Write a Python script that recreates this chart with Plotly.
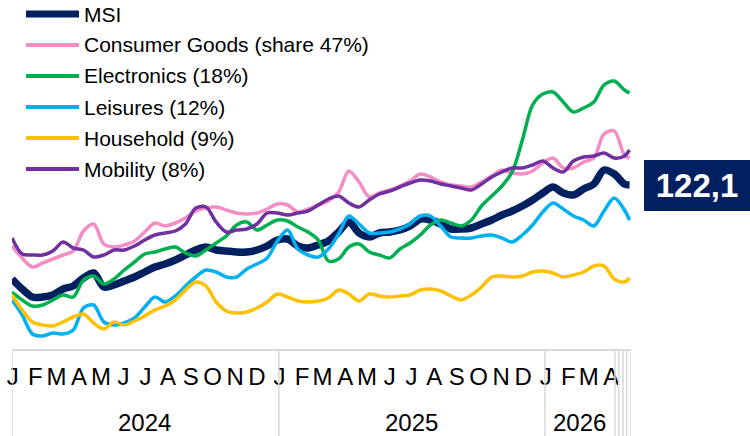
import plotly.graph_objects as go
import pandas as pd

# ---------------- data ----------------
dates = list(pd.date_range("2024-01-01", periods=61, freq="14D")) + [pd.Timestamp("2026-04-27")]

msi = [103.3, 101.3, 99.7, 99.7, 100.1, 101.3, 101.9, 103.5, 104.5, 101.7,
       102.1, 102.9, 103.7, 104.7, 105.7, 106.3, 107.1, 108.1, 109.1, 109.7,
       109.1, 108.9, 108.7, 108.7, 109.1, 109.9, 111.1, 111.3, 109.9, 109.5,
       110.1, 110.9, 112.7, 114.7, 112.5, 111.7, 112.5, 112.7, 113.1, 113.9,
       115.3, 115.1, 114.3, 113.3, 113.3, 113.5, 114.3, 115.1, 116.1, 116.9,
       117.9, 119.1, 120.5, 121.7, 120.5, 120.1, 121.3, 122.3, 125.1, 124.3,
       122.3, 122.1]

consumer_goods = [109.9, 107.5, 105.7, 106.5, 107.3, 108.1, 108.9, 112.9, 114.3, 110.3,
                  109.7, 110.1, 110.9, 112.7, 114.5, 113.9, 114.5, 115.5, 116.9, 117.5,
                  117.7, 117.1, 116.5, 116.3, 116.5, 117.3, 118.3, 118.1, 116.7, 117.3,
                  118.1, 118.9, 120.7, 124.9, 122.7, 119.7, 120.5, 121.1, 121.9, 122.9,
                  124.3, 123.7, 122.7, 122.1, 121.9, 121.7, 122.7, 123.9, 125.1, 124.5,
                  124.3, 124.9, 126.5, 127.5, 125.5, 125.5, 126.7, 127.5, 132.3, 132.9,
                  128.1, 127.5]

electronics = [100.7, 99.1, 97.9, 98.1, 99.1, 100.1, 99.7, 103.1, 103.9, 102.3,
               103.3, 105.1, 106.7, 108.3, 108.7, 109.3, 109.7, 108.5, 107.9, 109.1,
               110.5, 111.9, 114.1, 114.7, 113.1, 114.1, 115.1, 114.9, 113.7, 112.7,
               111.1, 106.9, 107.3, 109.7, 110.3, 108.7, 108.1, 107.5, 109.3, 110.5,
               112.1, 114.1, 115.1, 114.5, 113.9, 115.1, 117.9, 119.9, 121.9, 124.7,
               131.1, 138.1, 140.3, 140.7, 138.7, 136.7, 137.5, 138.7, 142.1, 142.9,
               141.1, 140.5]

leisures = [99.1, 96.1, 92.3, 91.9, 92.5, 92.3, 93.1, 97.5, 98.1, 94.7,
            94.1, 94.5, 95.5, 97.7, 99.7, 98.7, 99.9, 101.9, 103.7, 105.1,
            104.7, 103.7, 103.7, 105.3, 106.3, 107.5, 110.9, 113.1, 109.3, 108.1,
            107.7, 109.3, 112.3, 115.9, 114.3, 112.5, 112.5, 112.7, 113.3, 114.3,
            115.9, 115.9, 113.9, 111.7, 111.5, 111.5, 111.9, 112.1, 111.5, 110.7,
            112.1, 114.1, 116.7, 118.5, 117.3, 115.9, 115.1, 113.9, 116.9, 119.5,
            117.1, 115.1]

household = [100.1, 97.1, 94.7, 94.1, 93.9, 94.7, 95.7, 96.3, 94.5, 93.3,
             94.7, 94.1, 94.9, 95.9, 97.1, 97.9, 99.1, 101.1, 102.7, 101.9,
             98.7, 96.9, 96.5, 96.7, 97.5, 98.7, 100.3, 99.7, 98.9, 98.7,
             98.9, 99.5, 101.1, 100.3, 98.9, 100.3, 99.9, 99.7, 99.9, 100.1,
             101.1, 101.3, 100.9, 99.9, 99.1, 100.1, 101.7, 103.7, 103.9, 103.7,
             103.9, 104.7, 104.9, 104.5, 103.7, 104.1, 104.7, 105.9, 105.9, 103.3,
             102.7, 103.5]

mobility = [111.5, 108.3, 108.1, 108.1, 108.9, 110.7, 109.5, 109.1, 107.7, 108.1,
            109.1, 109.1, 109.9, 111.1, 112.1, 112.5, 112.9, 114.3, 117.5, 117.7,
            114.7, 112.7, 113.1, 113.3, 114.3, 116.5, 116.5, 116.1, 116.5, 116.9,
            118.1, 119.3, 119.9, 118.5, 117.7, 119.1, 120.3, 120.9, 121.7, 122.5,
            123.1, 122.9, 122.3, 121.9, 121.5, 121.1, 122.3, 123.7, 124.7, 125.5,
            125.5, 126.1, 126.9, 125.5, 124.7, 126.9, 127.7, 127.9, 128.5, 127.5,
            127.9, 129.1]

series_names = ["MSI", "Consumer Goods (share 47%)", "Electronics (18%)",
                "Leisures (12%)", "Household (9%)", "Mobility (8%)"]
series_values = [msi, consumer_goods, electronics, leisures, household, mobility]

month_letters = ["J", "F", "M", "A", "M", "J", "J", "A", "S", "O", "N", "D"]
year_labels = ["2024", "2025", "2026"]
year_centers = ["2024-07-01", "2025-07-02", "2026-02-17"]
year_bounds = ["2024-01-01", "2025-01-01", "2026-01-01",
               "2026-04-07", "2026-04-12", "2026-04-18", "2026-04-23", "2026-04-29"]
last_label = "122,1"

# ---------------- style ----------------
colors = ["#002060", "#F38DC4", "#00B050", "#00B0F0", "#FFC000", "#7030A0"]
widths = [7.5, 3.5, 3.5, 3.5, 3.5, 3.5]
legend_widths = [7, 4, 4, 4, 4, 4]
FONT = "Liberation Sans, Arial, sans-serif"

W, H = 750, 436
L, R, T, B = 12, 119, 0, 86
plot_w = W - L - R
plot_h = H - T - B

fig = go.Figure()
for name, vals, c, w in zip(series_names, series_values, colors, widths):
    fig.add_trace(go.Scatter(x=dates, y=vals, name=name, mode="lines",
                             line=dict(color=c, width=w, shape="spline", smoothing=0.9),
                             showlegend=False, hoverinfo="skip"))

# month ticks (at each month start)
tickvals, ticktext = [], []
for m in pd.date_range("2024-01-01", "2026-04-01", freq="MS"):
    tickvals.append(m + pd.Timedelta(days=1))
    ticktext.append(month_letters[m.month - 1])

shapes = []
annotations = []

# axis baseline
shapes.append(dict(type="line", xref="paper", yref="paper", x0=0, x1=1, y0=0, y1=0,
                   line=dict(color="#D9D9D9", width=2)))
# year dividers
for d in year_bounds:
    shapes.append(dict(type="line", xref="x", yref="paper", x0=d, x1=d, y0=0,
                       y1=-B / plot_h, line=dict(color="#D9D9D9", width=1.5)))
# year labels
for lab, c in zip(year_labels, year_centers):
    annotations.append(dict(text=lab, xref="x", yref="paper", x=c, y=-(422 - plot_h) / plot_h,
                            showarrow=False, xanchor="center", yanchor="middle",
                            font=dict(family=FONT, size=24, color="#000000")))

# manual legend
row_px = [14, 45, 76, 107, 138, 169]
for name, c, lw, ry in zip(series_names, colors, legend_widths, row_px):
    yp = 1 - ry / plot_h
    shapes.append(dict(type="line", xref="paper", yref="paper",
                       x0=(26 - L) / plot_w, x1=(79 - L) / plot_w, y0=yp, y1=yp,
                       line=dict(color=c, width=lw)))
    annotations.append(dict(text=name, xref="paper", yref="paper", x=(82 - L) / plot_w, y=yp,
                            showarrow=False, xanchor="left", yanchor="middle",
                            font=dict(family=FONT, size=21, color="#000000")))

# last value label
annotations.append(dict(text="<b>" + last_label + "</b>", xref="paper", yref="y",
                        x=(644 - L) / plot_w, y=msi[-1], xanchor="left", yanchor="middle",
                        showarrow=False, bgcolor="#002060", borderpad=3, borderwidth=0,
                        width=100, height=45, align="center",
                        font=dict(family=FONT, size=33, color="#FFFFFF")))

fig.update_layout(
    width=W, height=H,
    margin=dict(l=L, r=R, t=T, b=B),
    paper_bgcolor="white", plot_bgcolor="white",
    showlegend=False,
    shapes=shapes, annotations=annotations,
    xaxis=dict(type="date", range=["2024-01-01", "2026-04-29"], showgrid=False,
               zeroline=False, showline=False, ticks="", tickvals=tickvals, ticktext=ticktext,
               tickangle=0, tickfont=dict(family=FONT, size=24, color="#000000"),
               ticklabelstandoff=10),
    yaxis=dict(range=[159.1 - 0.2 * plot_h, 159.1], visible=False, showgrid=False,
               zeroline=False),
)

fig.write_html("out.html", config={"displayModeBar": False},
               post_script="document.body.style.margin='0';document.body.style.overflow='hidden';")
